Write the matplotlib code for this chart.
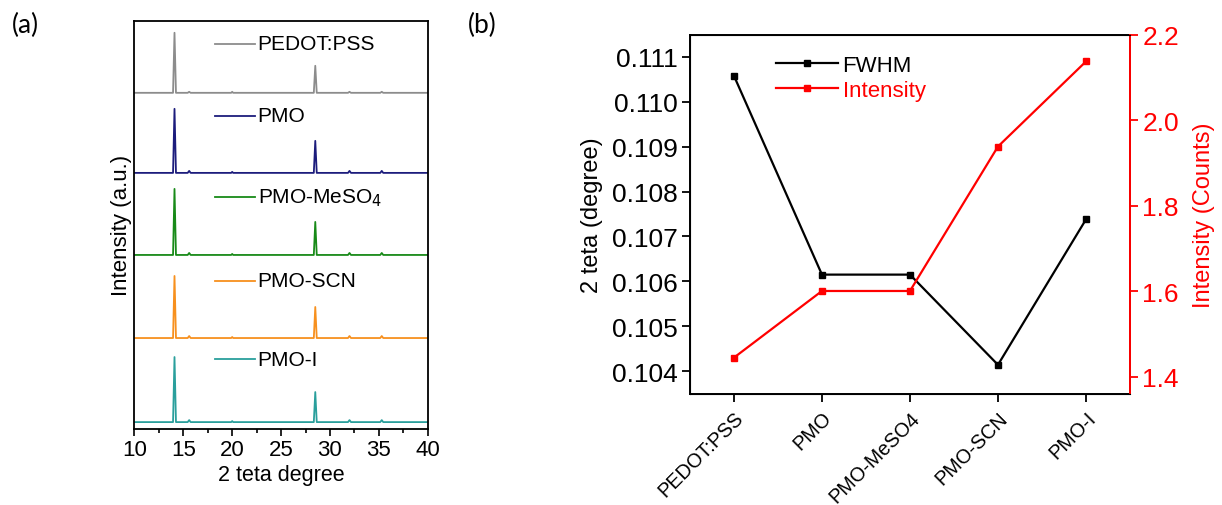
import matplotlib.pyplot as plt
import numpy as np

plt.rcParams["font.family"] = ["Liberation Sans", "DejaVu Sans"]

# ---- panel (a): XRD patterns, sparse points ----
two_theta = [10, 13.95, 14.1, 14.25, 15.45, 15.6, 15.75, 19.9, 20.0, 20.1,
             28.35, 28.5, 28.65, 31.85, 32.0, 32.15, 35.15, 35.3, 35.45, 40]
xrd_names = ["PEDOT:PSS", "PMO", "PMO-MeSO$_4$", "PMO-SCN", "PMO-I"]
xrd_colors = ["#8c8c8c", "#1c1c7c", "#188a18", "#f7901e", "#2a9f9c"]
xrd_offsets = [336, 256, 174, 91, 7]
xrd_counts = [
    [0, 0, 60, 0, 0, 1, 0, 0, 1, 0, 0, 27, 0, 0, 1, 0, 0, 1, 0, 0],
    [0, 0, 64, 0, 0, 2, 0, 0, 1, 0, 0, 32, 0, 0, 2, 0, 0, 2, 0, 0],
    [0, 0, 66, 0, 0, 2, 0, 0, 1, 0, 0, 33, 0, 0, 2, 0, 0, 2, 0, 0],
    [0, 0, 62, 0, 0, 2, 0, 0, 1, 0, 0, 31, 0, 0, 2, 0, 0, 2, 0, 0],
    [0, 0, 65, 0, 0, 2, 0, 0, 1, 0, 0, 30, 0, 0, 2, 0, 0, 2, 0, 0],
]
label_y = [45, 117, 198, 282, 360]  # pixel rows of the inline labels

# ---- panel (b): FWHM and intensity ----
samples = ["PEDOT:PSS", "PMO", "PMO-MeSO4", "PMO-SCN", "PMO-I"]
fwhm = [0.11058, 0.10615, 0.10615, 0.10414, 0.10738]
intensity = [1.445, 1.601, 1.601, 1.939, 2.138]

fig = plt.figure(figsize=(12.22, 5.06), dpi=100)

ax = fig.add_axes([0.110, 0.150, 0.240, 0.807])
for name, col, off, cnt, ly in zip(xrd_names, xrd_colors, xrd_offsets,
                                   xrd_counts, label_y):
    ax.plot(two_theta, np.array(cnt) + off, color=col, lw=1.3)
    yl = 430 - ly
    ax.plot([18.2, 22.3], [yl, yl], color=col, lw=1.3)
    ax.text(22.6, yl, name, fontsize=15, va="center", ha="left")
ax.set_xlim(10, 40)
ax.set_ylim(0, 408)
ax.set_xticks([10, 15, 20, 25, 30, 35, 40])
ax.set_xticks(np.arange(12.5, 40, 5), minor=True)
ax.set_yticks([])
ax.tick_params(axis="x", labelsize=16, direction="out", length=5, width=1.2,
               pad=2)
ax.tick_params(axis="x", which="minor", length=3, width=1.2)
ax.set_xlabel("2 teta degree", fontsize=15.5, labelpad=3)
ax.set_ylabel("Intensity (a.u.)", fontsize=16, labelpad=2)
for s in ax.spines.values():
    s.set_linewidth(1.3)

ax2 = fig.add_axes([0.5646, 0.2194, 0.3601, 0.7095])
x = np.arange(len(samples))
l1, = ax2.plot(x, fwhm, "k-s", lw=1.6, ms=5, label="FWHM")
ax2.set_xlim(-0.5, 4.5)
ax2.set_ylim(0.10349, 0.11149)
ax2.set_yticks(np.arange(0.104, 0.1115, 0.001))
ax2.set_yticklabels([f"{v:.3f}" for v in np.arange(0.104, 0.1115, 0.001)])
ax2.set_xticks(x)
ax2.set_xticklabels(samples, rotation=45, ha="right", rotation_mode="anchor",
                    fontsize=14.3)
ax2.tick_params(axis="y", labelsize=19, length=6, width=1.3, pad=3)
ax2.tick_params(axis="x", length=6, width=1.3, pad=4)
ax2.set_ylabel("2 teta (degree)", fontsize=17, labelpad=6)
for s in ax2.spines.values():
    s.set_linewidth(1.4)

ax3 = ax2.twinx()
l2, = ax3.plot(x, intensity, "-s", color="#ff0000", lw=1.6, ms=5,
               label="Intensity")
ax3.set_ylim(1.36, 2.2)
ax3.set_yticks([1.4, 1.6, 1.8, 2.0, 2.2])
ax3.tick_params(axis="y", colors="#ff0000", labelsize=19, length=6, width=1.3,
                pad=3)
ax3.set_ylabel("Intensity (Counts)", fontsize=17, color="#ff0000", labelpad=10)
ax3.spines["right"].set_color("#ff0000")
ax3.spines["right"].set_linewidth(1.4)

leg = ax2.legend(handles=[l1, l2], loc="upper left", bbox_to_anchor=(0.175, 0.97),
                 frameon=False, fontsize=16, labelcolor="linecolor",
                 handlelength=2.8, handletextpad=0.2, labelspacing=0.2,
                 borderaxespad=0)

fig.text(0.010, 0.975, "(a)", fontsize=19, family="Lato", va="top")
fig.text(0.383, 0.975, "(b)", fontsize=19, family="Lato", va="top")

fig.savefig("out.png", dpi=100)
